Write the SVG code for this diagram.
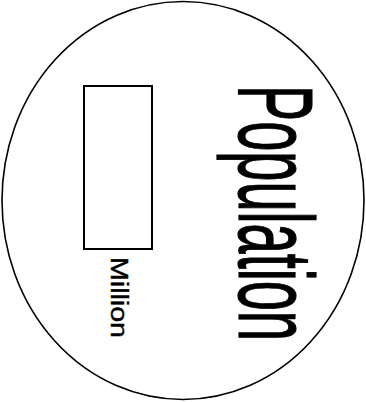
<svg xmlns="http://www.w3.org/2000/svg" width="366" height="402" viewBox="0 0 366 402">
<style>
.ln{fill:none;stroke:#000;}
.t{font-family:"Liberation Sans",Arial,sans-serif;fill:#000;}
</style>
<rect width="366" height="402" fill="#fff"/>
<g id="circle"><ellipse class="ln" cx="183" cy="200.5" rx="181" ry="199" stroke-width="1.6"/></g>
<g id="box"><rect class="ln" x="84" y="86" width="68" height="163" stroke-width="2"/></g>
<g id="label-million"><text class="t" transform="translate(110.5,257) rotate(90)" font-size="23" textLength="81" lengthAdjust="spacingAndGlyphs" stroke="#000" stroke-width="0.4">Million</text></g>
<g id="label-population"><text class="t" transform="translate(239,85) rotate(90)" font-size="106" textLength="256" lengthAdjust="spacingAndGlyphs" stroke="#000" stroke-width="1.2">Population</text></g>
<g id="connectors"></g>
</svg>
